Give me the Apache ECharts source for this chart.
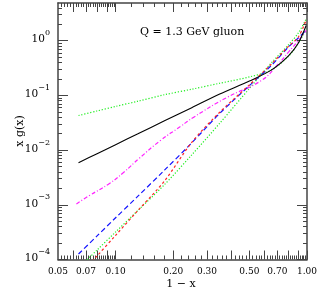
<!DOCTYPE html>
<html><head><meta charset="utf-8">
<script src="https://cdn.jsdelivr.net/npm/echarts@6/dist/echarts.min.js"></script>
<style>html,body{margin:0;padding:0;background:#fff}#c{width:319px;height:292px}</style>
</head><body><div id="c"></div>
<script>
// ---- data ----
const xTickLabels = [0.05, 0.07, 0.10, 0.20, 0.30, 0.50, 0.70, 1.00];
const yTickExps = [-4, -3, -2, -1, 0];
const xRange = [0.05, 1.0];
const yRange = [1e-4, 4.9];
const uGrid = [0.064, 0.08, 0.10, 0.13, 0.18, 0.25, 0.35, 0.50, 0.65, 0.80, 0.90, 0.99];
const blackSolid = [0.0059, 0.0086, 0.0126, 0.0197, 0.0343, 0.0598, 0.106, 0.183, 0.29, 0.53, 0.90, 1.9];
const greenFlat = [0.043, 0.052, 0.063, 0.078, 0.103, 0.130, 0.167, 0.218, 0.29, 0.52, 0.90, 1.6];
const magentaU = [0.0624, 0.073, 0.0929, 0.11, 0.133, 0.1715, 0.218, 0.256, 0.384, 0.574, 0.70, 0.80, 0.90, 0.99];
const magentaDashDot = [0.00104, 0.00148, 0.00245, 0.0039, 0.0071, 0.0150, 0.027, 0.040, 0.093, 0.185, 0.36, 0.62, 1.0, 1.55];
const blueDashed = [0.000126, 0.00027, 0.00058, 0.00141, 0.0043, 0.0136, 0.047, 0.151, 0.351, 0.77, 1.12, 1.57];
const redDashed = [0.000049, 0.000116, 0.000277, 0.00077, 0.00272, 0.0139, 0.0493, 0.156, 0.372, 0.79, 1.16, 2.39];
const greenSteep = [0.00007, 0.000149, 0.000319, 0.000774, 0.00234, 0.0082, 0.031, 0.134, 0.39, 0.84, 1.38, 2.49];
const titleText = 'Q = 1.3 GeV gluon';
const xName = '1 \u2212 x';
const yName = 'x g(x)';

// ---- helpers ----
const L = Math.log10;
function pts(us, ys) { return us.map((u, i) => [L(u), L(ys[i])]); }
const xMajor = [], xMinor = [];
[0.06, 0.07, 0.08, 0.09, 0.1, 0.2, 0.3, 0.4, 0.5, 0.6, 0.7, 0.8, 0.9, 1.0].forEach(v => xMajor.push(L(v)));
for (let k = 25; k < 50; k++) { const v = k * 0.002; if (k % 5) xMinor.push(L(v)); }
for (let k = 5; k <= 50; k++) { const v = k * 0.02; if (k % 5) xMinor.push(L(v)); }
const yMajor = yTickExps.slice(), yMinor = [];
for (let d = -4; d <= 0; d++) for (let m = 2; m <= 9; m++) { const v = d + L(m); if (v < L(yRange[1])) yMinor.push(v); }

const FONT = 'DejaVu Serif';
const axCol = '#444';
const xmin = L(xRange[0]), xmax = L(xRange[1]), ymin = L(yRange[0]), ymax = L(yRange[1]);
function xAx(pos, ticks, len, line, labels) {
  return {
    type: 'value', position: pos, min: xmin, max: xmax,
    axisLine: { show: line, onZero: false, lineStyle: { color: axCol, width: 1.5 } },
    axisTick: { show: true, inside: true, length: len, customValues: ticks, lineStyle: { color: axCol, width: 1 } },
    axisLabel: labels ? {
      show: true, customValues: labels.map(L), margin: 8,
      fontFamily: FONT, fontSize: 9, color: '#000',
      formatter: v => Math.pow(10, v).toFixed(2)
    } : { show: false },
    splitLine: { show: false }
  };
}
function yAx(pos, ticks, len, line, labels) {
  return {
    type: 'value', position: pos, min: ymin, max: ymax,
    axisLine: { show: line, onZero: false, lineStyle: { color: axCol, width: 1.5 } },
    axisTick: { show: true, inside: true, length: len, customValues: ticks, lineStyle: { color: axCol, width: 1 } },
    axisLabel: labels ? {
      show: true, customValues: labels, margin: 8, padding: [0, 0, 7, 0],
      formatter: v => { const e = Math.round(v); return '{b|10}{s|' + (e < 0 ? '\u2212' + (-e) : e) + '}'; },
      rich: {
        b: { fontFamily: FONT, fontSize: 10.5, color: '#000', lineHeight: 16, verticalAlign: 'bottom' },
        s: { fontFamily: FONT, fontSize: 8, color: '#000', lineHeight: 9, verticalAlign: 'top' }
      }
    } : { show: false },
    splitLine: { show: false }
  };
}
function ser(data, color, dash, w, sm) {
  return {
    type: 'line', data: data, xAxisIndex: 0, yAxisIndex: 0, showSymbol: false, smooth: sm || 0.3,
    lineStyle: { color: color, width: w || 1.2, type: dash }, clip: true, animation: false
  };
}

const chart = echarts.init(document.getElementById('c'), null, { renderer: 'canvas' });
chart.setOption({
  animation: false,
  backgroundColor: '#fff',
  grid: { left: 58, right: 12, top: 3, bottom: 32.5, containLabel: false, outerBoundsMode: 'none' },
  title: { text: titleText, left: 140, top: 27, padding: 0,
    textStyle: { fontFamily: FONT, fontSize: 11, fontWeight: 'normal', color: '#000' } },
  graphic: [
    { type: 'text', x: 181, y: 284, style: { text: xName, font: '11px "DejaVu Serif"', fill: '#000', align: 'center', verticalAlign: 'middle' } },
    { type: 'text', x: 20, y: 131, rotation: Math.PI / 2, style: { text: yName, font: '11px "DejaVu Serif"', fill: '#000', align: 'center', verticalAlign: 'middle' } }
  ],
  xAxis: [
    xAx('bottom', xMajor, 9, true, xTickLabels),
    xAx('bottom', xMinor, 4, false, null),
    xAx('top', xMajor, 9, true, null),
    xAx('top', xMinor, 4, false, null)
  ],
  yAxis: [
    yAx('left', yMajor, 10, true, yTickExps),
    yAx('left', yMinor, 4, false, null),
    yAx('right', yMajor, 10, true, null),
    yAx('right', yMinor, 4, false, null)
  ],
  series: [
    ser(pts(uGrid, greenFlat), '#22ee22', [1.2, 1.8]),
    ser(pts(uGrid, greenSteep), '#22ee22', [1.2, 1.8]),
    ser(pts(magentaU, magentaDashDot), '#ff22ff', [4, 2, 1, 2], 1.2, 0.5),
    ser(pts(uGrid, blueDashed), '#1111ff', [5, 3]),
    ser(pts(uGrid, redDashed), '#ff2222', [2.5, 2.5]),
    ser(pts(uGrid, blackSolid), '#000000', 'solid', 1.1)
  ]
});
</script></body></html>
